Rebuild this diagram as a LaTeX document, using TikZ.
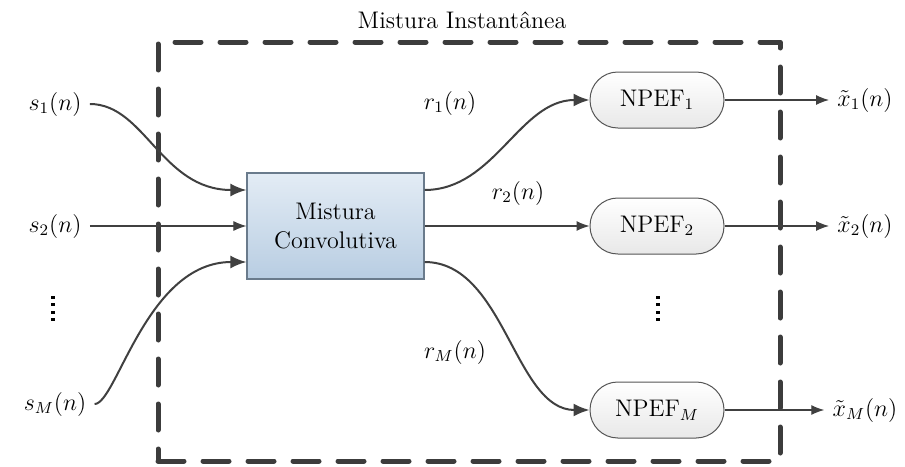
\documentclass[tikz,border=0pt]{standalone}
\usepackage{fontspec}
\usetikzlibrary{arrows.meta,calc}

\definecolor{wire}{HTML}{404040}
\definecolor{framegray}{HTML}{3C3C3C}
\definecolor{boxtop}{HTML}{E3ECF5}
\definecolor{boxbot}{HTML}{B8CDE2}
\definecolor{boxline}{HTML}{6A7B8C}
\definecolor{pilltop}{HTML}{FFFFFF}
\definecolor{pillbot}{HTML}{E8E8E8}
\definecolor{pillline}{HTML}{555555}

\tikzset{
  label/.style={inner sep=4pt},
  mixbox/.style={draw=boxline, line width=0.6pt, top color=boxtop, bottom color=boxbot,
    minimum width=88.5pt, minimum height=53pt, align=center, inner sep=0pt},
  pill/.style={draw=pillline, line width=0.5pt, top color=pilltop, bottom color=pillbot,
    rounded corners=13.9pt, minimum width=67pt, minimum height=28pt, inner sep=0pt},
  framebox/.style={draw=framegray, line width=2.5pt, line cap=round, line join=round,
    dash pattern=on 13pt off 9.5pt, minimum width=311pt, minimum height=209.5pt, inner sep=0pt},
  curvearrow/.style={draw=wire, line width=1pt, -{Latex[length=8pt,width=6.5pt]}},
  flatarrow/.style={draw=wire, line width=0.55pt, -{Latex[length=6.5pt,width=5pt]}},
  dotcol/.style={inner sep=0pt, minimum width=3pt, minimum height=17pt},
}

% a column of four square dots around a named node
\newcommand{\dotcolumn}[1]{%
  \foreach \k in {-1.5,-0.5,0.5,1.5}
    \fill[black] ($(#1)+(0,7.5*\k)$) ++(-1.6,-1.6) rectangle ++(3.2,3.2);}

\begin{document}
\begin{tikzpicture}[x=0.5pt, y=-0.5pt, font=\fontsize{12}{14.5}\selectfont]
\useasboundingbox (0,0) rectangle (905,466);

% instantaneous-mixture frame and its title
\node[framebox] (frame) at (469,251.5) {};
\node (title) at (462,20) {Mistura Instantânea};

% sources
\node[label] (s1) at (55,104) {$s_1(n)$};
\node[label] (s2) at (55,226) {$s_2(n)$};
\node[label] (sM) at (55,404) {$s_M(n)$};
\node[dotcol] (ldots) at (53,308.5) {};
\dotcolumn{ldots}

% convolutive mixture block
\node[mixbox] (mix) at (335.5,226) {Mistura\\Convolutiva};

% filters
\node[pill] (f1) at (657,100) {NPEF$_1$};
\node[pill] (f2) at (657,226) {NPEF$_2$};
\node[pill] (fM) at (657,410) {NPEF$_M$};
\node[dotcol] (rdots) at (658,308.5) {};
\dotcolumn{rdots}

% mixture outputs
\node (r1) at (450,103) {$r_1(n)$};
\node (r2) at (518,193) {$r_2(n)$};
\node (rM) at (455,352) {$r_M(n)$};

% estimates
\node[label] (x1) at (865,100) {$\tilde{x}_1(n)$};
\node[label] (x2) at (865,226) {$\tilde{x}_2(n)$};
\node[label] (xM) at (865,410) {$\tilde{x}_M(n)$};

% mixer ports
\coordinate (in1) at ($(mix.west)+(0,-36)$);
\coordinate (inM) at ($(mix.west)+(0,36)$);
\coordinate (out1) at ($(mix.east)+(0,-36)$);
\coordinate (outM) at ($(mix.east)+(0,36)$);

% sources into the mixer
\draw[curvearrow] (s1.east) .. controls +(55,0) and +(-85,0) .. (in1);
\draw[flatarrow] (s2.east) -- (mix.west);
\draw[curvearrow] (sM.east) .. controls +(22,0) and +(-100,0) .. (inM);

% mixer into the filters
\draw[curvearrow] (out1) .. controls +(70,0) and +(-70,0) .. (f1.west);
\draw[flatarrow] (mix.east) -- (f2.west);
\draw[curvearrow] (outM) .. controls +(80,0) and +(-75,0) .. (fM.west);

% filter outputs
\draw[flatarrow] (f1.east) -- (x1.west);
\draw[flatarrow] (f2.east) -- (x2.west);
\draw[flatarrow] (fM.east) -- (xM.west);
\end{tikzpicture}
\end{document}
